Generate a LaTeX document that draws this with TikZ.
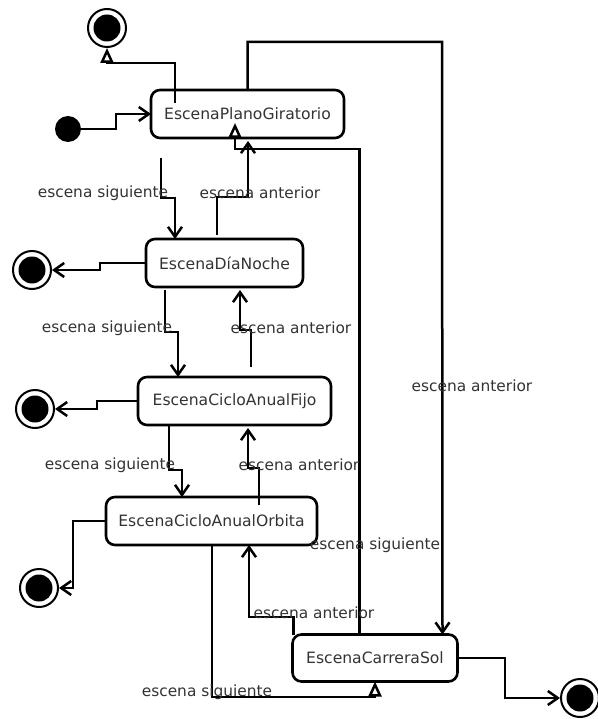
\documentclass[tikz,border=0pt]{standalone}
\usepackage{fontspec}
\setmainfont{DejaVu Sans}
\usetikzlibrary{arrows.meta}
\tikzset{
  state/.style={draw, line width=2.6pt, rounded corners=9pt, inner sep=0pt, outer sep=0pt,
    minimum height=48pt, text=black!80, font=\fontsize{15.6}{18}\selectfont},
  finalst/.style={circle, draw, line width=2pt, minimum size=38pt, inner sep=0pt,
    path picture={\fill (path picture bounding box.center) circle (13.5pt);}},
  initst/.style={circle, fill, minimum size=26pt, inner sep=0pt},
  conn/.style={draw, line width=2.5pt},
  vv/.style={conn, -{Straight Barb[length=10pt,width=14pt]}},
  tri/.style={conn, -{Triangle[open,length=15pt,width=13pt,line width=2.5pt]}},
  lbl/.style={text=black!80, font=\fontsize{15.4}{18}\selectfont, inner sep=0pt}
}
\begin{document}
\begin{tikzpicture}[x=1pt,y=-1pt]
\useasboundingbox (0,0) rectangle (597,719);

% states
\node[state, minimum width=193pt] (plano) at (247.5,114) {EscenaPlanoGiratorio};
\node[state, minimum width=157pt] (dia) at (224.5,263) {EscenaDíaNoche};
\node[state, minimum width=193pt] (fijo) at (234.5,401) {EscenaCicloAnualFijo};
\node[state, minimum width=211pt] (orbita) at (211.5,521) {EscenaCicloAnualOrbita};
\node[state, minimum width=165pt, minimum height=47pt] (carrera) at (375,658) {EscenaCarreraSol};

% initial and final states
\node[initst] (init) at (68,129) {};
\node[finalst] (fin1) at (107,28) {};
\node[finalst] (fin2) at (32,270) {};
\node[finalst] (fin3) at (35,409) {};
\node[finalst] (fin4) at (39,588) {};
\node[finalst] (fin5) at (580,698) {};

% free starting points
\coordinate (s1) at (161,158);
\coordinate (s2) at (251,367);

% initial -> plano
\draw[vv] (init.east) -- (116,129) |- (plano.west);
% plano -> fin1
\draw[tri] ([xshift=24pt,yshift=-13pt]plano.north west) |- (107,63) -- (fin1);
% plano -> dia (siguiente)
\draw[vv] (s1) |- (175,198) -- ([xshift=29pt]dia.north west);
% dia -> plano (anterior)
\draw[vv] ([xshift=71pt,yshift=4pt]dia.north west) |- (248,197) -- ([xshift=97pt,yshift=-3pt]plano.south west);
% dia -> fin2
\draw[vv] (dia.west) -- (100,263) -- (100,270) -- (fin2);
% dia -> fijo (siguiente)
\draw[vv] ([xshift=19pt,yshift=-3pt]dia.south west) |- (178,332) -- ([xshift=40pt]fijo.north west);
% fijo -> dia (anterior)
\draw[vv] (s2) |- (240,330) -- ([xshift=94pt,yshift=-3pt]dia.south west);
% fijo -> fin3
\draw[vv] (fijo.west) -- (97,401) -- (97,409) -- (fin3);
% fijo -> orbita (siguiente)
\draw[vv] ([xshift=31pt]fijo.south west) |- (182,470) -- ([xshift=76pt]orbita.north west);
% orbita -> fijo (anterior)
\draw[vv] ([xshift=153pt,yshift=-8pt]orbita.north west) |- (248,468) -- ([xshift=110pt,yshift=-3pt]fijo.south west);
% orbita -> fin4
\draw[vv] (orbita.west) -- (73,521) -- (73,588) -- (fin4);
% orbita -> carrera (siguiente)
\draw[tri] ([xshift=106pt]orbita.south west) |- (375,697) -- (carrera.south);
% carrera -> orbita (anterior)
\draw[vv] ([xshift=1pt]carrera.north west) |- (249,617) -- ([xshift=143pt]orbita.south west);
% carrera -> plano (anterior)
\draw[tri] ([xshift=67pt]carrera.north west) |- (235,149) -- ([xshift=84pt,yshift=15pt]plano.south west);
% plano -> carrera (siguiente)
\draw[vv] (plano.north) |- (442,42) -- ([xshift=150pt]carrera.north west);
% carrera -> fin5
\draw[vv] (carrera.east) -- (505,658) |- (fin5);

% labels
\node[lbl] at (103,193) {escena siguiente};
\node[lbl] at (260,193) {escena anterior};
\node[lbl] at (107,328) {escena siguiente};
\node[lbl] at (291,328) {escena anterior};
\node[lbl] at (110,465) {escena siguiente};
\node[lbl] at (299,465) {escena anterior};
\node[lbl] at (472,386) {escena anterior};
\node[lbl] at (375,545) {escena siguiente};
\node[lbl] at (314,613) {escena anterior};
\node[lbl] at (207,692) {escena siguiente};
\end{tikzpicture}
\end{document}
